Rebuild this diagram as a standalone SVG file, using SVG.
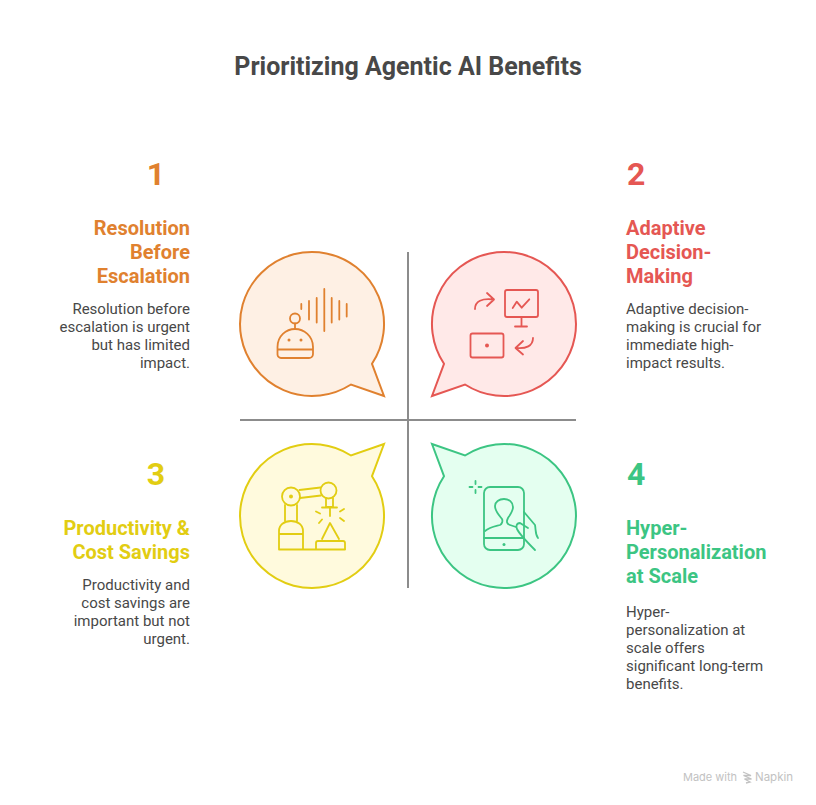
<svg xmlns="http://www.w3.org/2000/svg" width="816" height="805" viewBox="0 0 816 805">
<style>
text{font-family:Roboto,"Liberation Sans",sans-serif}
.title{font-size:25px;font-weight:700;fill:#484848;text-anchor:middle}
.num{font-size:32px;font-weight:700}
.head{font-size:20px;font-weight:700}
.body{font-size:15px;fill:#484848}
.e{text-anchor:end}
.bub{stroke-width:2;stroke-linejoin:miter}
.ic{fill:none;stroke-width:1.800;stroke-linecap:round;stroke-linejoin:round}
.or{fill:#e0812f}.re{fill:#e55753}.ye{fill:#e2cd12}.gr{fill:#3cc583}
</style>
<rect width="816" height="805" fill="#fff"/>
<text class="title" x="408" y="75">Prioritizing Agentic AI Benefits</text>
<g id="connectors" stroke="#8c8c8c" stroke-width="2" fill="none">
<path d="M408 252V588"/><path d="M240 420H576"/>
</g>
<g id="node-1">
<path class="bub" fill="#fef0e4" stroke="#e0812f" d="M384 396L351 384.500A72 72 0 1 1 372 363.800Z"/>
<g class="ic" stroke="#e0812f">
<circle cx="295" cy="318.500" r="5"/><path d="M295 323.500V329"/>
<path d="M277.500 354V347C277.500 336 286 329 295 329C304 329 313 336 313 347V354A4 4 0 0 1 309 358H281A3.500 3.500 0 0 1 277.500 354.500ZM277.500 349.500H313"/>
<path d="M301.300 304V309M309 301V319.500M316.700 298V322.500M324.300 289V331M331.700 298V322.500M339.300 301V319.500M346.700 304V316.500"/>
</g>
<circle class="or" cx="289" cy="340" r="1.500"/><circle class="or" cx="301" cy="340" r="1.500"/>
<text class="num or e" x="165" y="185">1</text>
<text class="head or e" x="190" y="235">Resolution</text>
<text class="head or e" x="190" y="259">Before</text>
<text class="head or e" x="190" y="283">Escalation</text>
<text class="body e" x="190" y="314">Resolution before</text>
<text class="body e" x="190" y="332">escalation is urgent</text>
<text class="body e" x="190" y="350">but has limited</text>
<text class="body e" x="190" y="368">impact.</text>
</g>
<g id="node-2">
<path class="bub" fill="#ffe9e8" stroke="#e55753" d="M432 396L465 384.500A72 72 0 1 0 444 363.800Z"/>
<g class="ic" stroke="#e55753">
<rect x="505" y="290" width="33" height="27" rx="2"/>
<path d="M521.500 317V326M515 326.500H527M512.700 308L516.700 301.700L521.700 307.700L529.300 299.300"/>
<path d="M475 309C475 301 482 298 494 299.500M487 293L494 299.500L487 306"/>
<rect x="470.500" y="333.500" width="33" height="24" rx="2"/>
<path d="M533 338C533 346 526 349 516 348M523 341L515.500 348L523 354.500"/>
</g>
<circle class="re" cx="487" cy="345.500" r="2"/>
<text class="num re" x="627" y="185">2</text>
<text class="head re" x="626" y="235">Adaptive</text>
<text class="head re" x="626" y="259">Decision-</text>
<text class="head re" x="626" y="283">Making</text>
<text class="body" x="626" y="314">Adaptive decision-</text>
<text class="body" x="626" y="332">making is crucial for</text>
<text class="body" x="626" y="350">immediate high-</text>
<text class="body" x="626" y="368">impact results.</text>
</g>
<g id="node-3">
<path class="bub" fill="#fffadd" stroke="#e2cd12" d="M384 444L351 455.500A72 72 0 1 0 372 476.200Z"/>
<g class="ic" stroke="#e2cd12">
<circle cx="291" cy="496.500" r="9"/><circle cx="328.500" cy="490.500" r="8"/>
<path d="M299.500 490L320.500 487.500M300 498L321 495.500M285 505V521M297 505V521"/>
<path d="M279 549.500V531C279 525 284 521 291 521C298 521 303 525 303 531V549.500M279 534H303M279 549.500H345"/>
<path d="M326 498V507H333V498M322 507.500H337M330 508V516"/>
<path d="M316 511.500L320 513.500M319 523L322 519.500M344 509L340 511.500M344 521L340 518"/>
<path d="M322 539L330 523L339 539M316 549V543A2 2 0 0 1 318 541H343A2 2 0 0 1 345 543V549"/>
</g>
<circle class="ye" cx="291" cy="496.500" r="2"/>
<text class="num ye e" x="165" y="485">3</text>
<text class="head ye e" x="190" y="535">Productivity &amp;</text>
<text class="head ye e" x="190" y="559">Cost Savings</text>
<text class="body e" x="190" y="590">Productivity and</text>
<text class="body e" x="190" y="608">cost savings are</text>
<text class="body e" x="190" y="626">important but not</text>
<text class="body e" x="190" y="644">urgent.</text>
</g>
<g id="node-4">
<path class="bub" fill="#e4fff0" stroke="#3cc583" d="M432 444L465 455.500A72 72 0 1 1 444 476.200Z"/>
<g class="ic" stroke="#3cc583">
<rect x="484" y="487" width="40" height="63" rx="6"/>
<path d="M484 538H524M485 531C490 527 497 526 500 525C502 524 503 521 502 519C498 514 495 511 495 506C495 502 499 499 504 499C509 499 513 502 513 507C513 511 510 515 508 518C506 522 507 524 510 525L516 527"/>
<path d="M524 512L535 525C536 530 535 534 538 538M528 528L520 523C516 523 516 527 517 529C520 535 526 541 535 550"/>
<path d="M475.500 481V484M475.500 490V493M469.500 487H472.500M478.500 487H481.500"/>
</g>
<circle class="gr" cx="504" cy="544.500" r="1.500"/>
<text class="num gr" x="627" y="485">4</text>
<text class="head gr" x="626" y="535">Hyper-</text>
<text class="head gr" x="626" y="559">Personalization</text>
<text class="head gr" x="626" y="583">at Scale</text>
<text class="body" x="626" y="617">Hyper-</text>
<text class="body" x="626" y="635">personalization at</text>
<text class="body" x="626" y="653">scale offers</text>
<text class="body" x="626" y="671">significant long-term</text>
<text class="body" x="626" y="689">benefits.</text>
</g>
<g id="watermark">
<text x="683" y="781" font-size="11" fill="#c2c2c2" style="font-family:Inter,Roboto,sans-serif">Made with</text>
<path d="M743 772L751 775.500L743.500 775.500L751.500 779L744.500 779L750 782L746 783" fill="none" stroke="#c2c2c2" stroke-width="1.300"/>
<text x="755" y="781" font-size="11.500" fill="#c2c2c2" style="font-family:Inter,Roboto,sans-serif">Napkin</text>
</g>
</svg>
